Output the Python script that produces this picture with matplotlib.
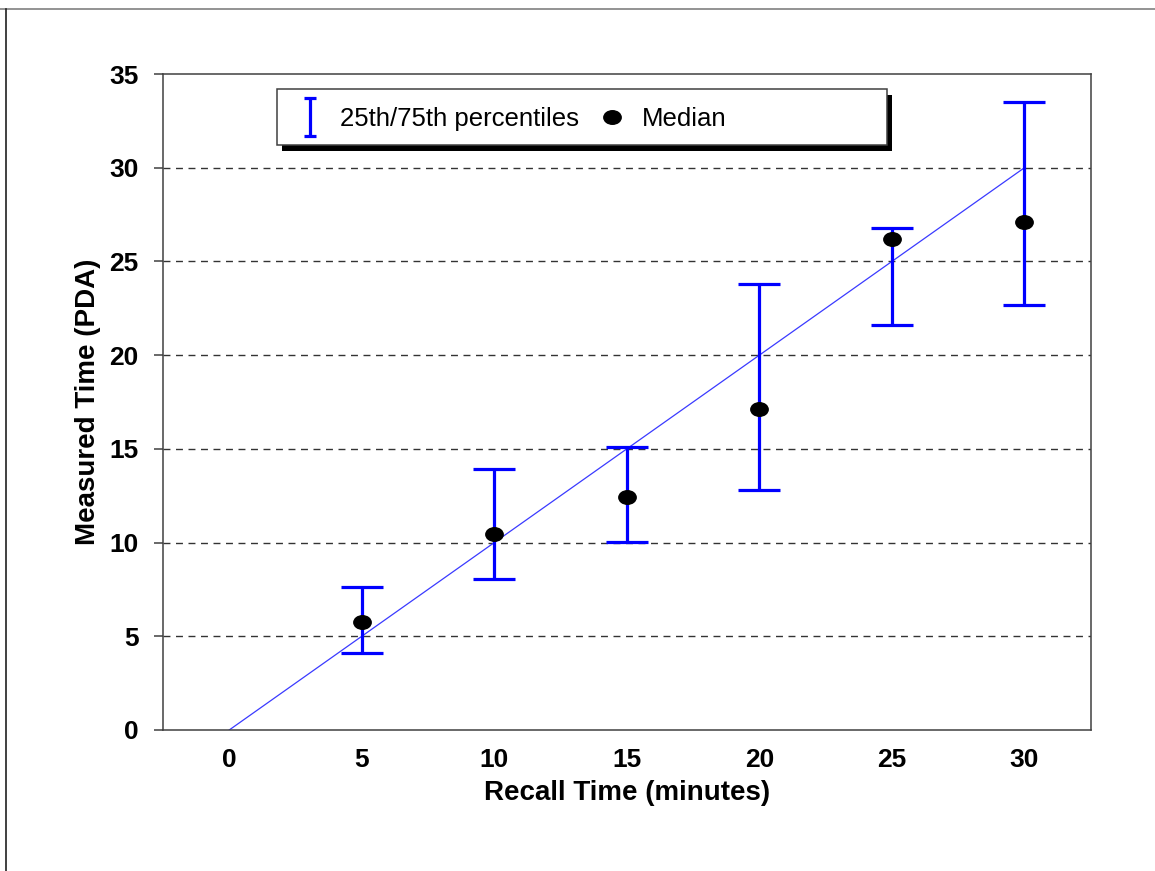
import numpy as np
import matplotlib
matplotlib.use("Agg")
import matplotlib.pyplot as plt
from matplotlib.path import Path
from matplotlib.transforms import Affine2D
from matplotlib.lines import Line2D
from matplotlib.patches import Rectangle
from matplotlib.container import ErrorbarContainer
from matplotlib.legend_handler import HandlerErrorbar

# --- data ---
recall = [5, 10, 15, 20, 25, 30]
median = [5.75, 10.45, 12.45, 17.15, 26.2, 27.1]
p25 = [4.12, 8.05, 10.05, 12.82, 21.6, 22.68]
p75 = [7.65, 13.9, 15.12, 23.82, 26.76, 33.52]
ideal_x = [0, 30]
ideal_y = [0, 30]

xticks = [0, 5, 10, 15, 20, 25, 30]
yticks = [0, 5, 10, 15, 20, 25, 30, 35]

plt.rcParams['font.family'] = ['Liberation Sans', 'DejaVu Sans']

fig = plt.figure(figsize=(11.55, 8.71), dpi=100)
ax = fig.add_axes([0.1411, 0.1619, 0.9443 - 0.1411, 0.9150 - 0.1619])

# oval marker for the medians
oval = Path.unit_circle().transformed(Affine2D().scale(1.0, 0.78))

med = np.array(median)
err = [med - np.array(p25), np.array(p75) - med]

ax.plot(ideal_x, ideal_y, color='#3a3aff', lw=0.9, zorder=2)
eb = ax.errorbar(recall, median, yerr=err, fmt='none', ecolor='#0000ff',
                 elinewidth=2.3, capsize=14.8, capthick=2.3, zorder=3,
                 label='25th/75th percentiles')
dots, = ax.plot(recall, median, ls='none', marker=oval, markersize=12.5,
                color='black', zorder=4, label='Median')

ax.set_xlim(-2.5, 32.5)
ax.set_ylim(0, 35)
ax.set_xticks(xticks)
ax.set_yticks(yticks)
ax.tick_params(axis='x', length=0, pad=13, labelsize=19)
ax.tick_params(axis='y', length=6.5, width=1.1, pad=11, labelsize=19,
               color='#404040')
for lab in ax.get_xticklabels() + ax.get_yticklabels():
    lab.set_fontweight('bold')

for v in yticks[1:-1]:
    ax.axhline(v, color='#333333', lw=1.0, dashes=(5, 4), zorder=1)

for s in ax.spines.values():
    s.set_color('#404040')
    s.set_linewidth(1.1)

ax.set_xlabel('Recall Time (minutes)', fontsize=20, fontweight='bold',
              labelpad=6)
ax.set_ylabel('Measured Time (PDA)', fontsize=20, fontweight='bold',
              labelpad=6)

# legend box with hard black shadow
bx0, by0, bx1, by1 = 0.1229, 0.8918, 0.7804, 0.9771
ax.add_patch(Rectangle((bx0 + 0.0054, by0 - 0.0091), bx1 - bx0, by1 - by0,
                       transform=ax.transAxes, facecolor='black',
                       edgecolor='none', zorder=5, clip_on=False))
ax.add_patch(Rectangle((bx0, by0), bx1 - bx0, by1 - by0,
                       transform=ax.transAxes, facecolor='white',
                       edgecolor='#404040', lw=1.1, zorder=6, clip_on=False))


def small_caps(handle, orig):
    handle.update_from(orig)
    if isinstance(handle, Line2D):
        handle.set_markersize(8.6)


leg = ax.legend([eb, dots], ['25th/75th percentiles', 'Median'],
                loc='center left', bbox_to_anchor=(0.1446, 0.932),
                ncol=2, frameon=False, fontsize=18.5, handlelength=1.0,
                handletextpad=0.67, columnspacing=0.78, borderpad=0,
                borderaxespad=0,
                handler_map={ErrorbarContainer: HandlerErrorbar(
                    yerr_size=0.74, update_func=small_caps)})
leg.set_zorder(7)

# outer frame lines of the original page
fig.add_artist(Line2D([0, 1], [1 - 9 / 871, 1 - 9 / 871], color='#808080',
                      lw=1.2, transform=fig.transFigure))
fig.add_artist(Line2D([6 / 1155, 6 / 1155], [0, 1 - 9 / 871], color='#202020',
                      lw=1.2, transform=fig.transFigure))

fig.savefig('out.png', dpi=100)
